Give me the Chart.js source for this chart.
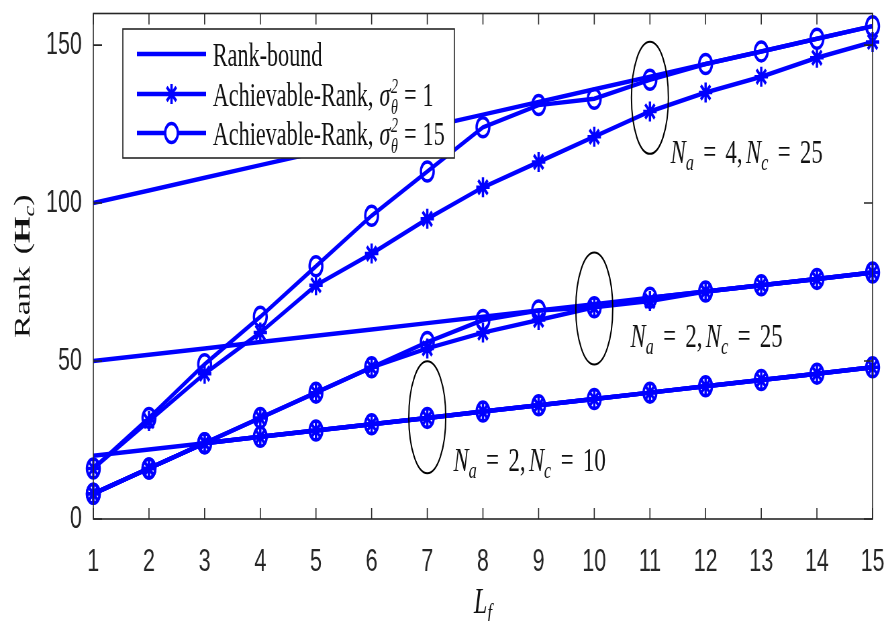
<!DOCTYPE html>
<html>
<head>
<meta charset="utf-8">
<script src="https://cdn.jsdelivr.net/npm/chart.js@4.4.0/dist/chart.umd.min.js"></script>
<style>
  html, body { margin: 0; padding: 0; background: #fff; }
</style>
</head>
<body>
<!-- drawn on a wide canvas and squeezed to the page width -->
<canvas id="rankChart" width="1320" height="621" style="display:block;width:886px;height:621px"></canvas>
<script>
const Lf = [1, 2, 3, 4, 5, 6, 7, 8, 9, 10, 11, 12, 13, 14, 15];
const yTicks = [0, 50, 100, 150];

// Na = 4, Nc = 25
const bound_4_25 = [100, 104, 108, 112, 116, 120, 124, 128, 132, 136, 140, 144, 148, 152, 156];
const ach1_4_25  = [16, 31, 46, 59, 74, 84, 95, 105, 113, 121, 129, 135, 140, 146, 151];
const ach15_4_25 = [16, 32, 49, 64, 80, 96, 110, 124, 131, 133, 139, 144, 148, 152, 156];

// Na = 2, Nc = 25
const bound_2_25 = [50, 52, 54, 56, 58, 60, 62, 64, 66, 68, 70, 72, 74, 76, 78];
const ach1_2_25  = [8, 16, 24, 32, 40, 48, 54, 59, 63, 67, 69, 72, 74, 76, 78];
const ach15_2_25 = [8, 16, 24, 32, 40, 48, 56, 63, 66, 67, 70, 72, 74, 76, 78];

// Na = 2, Nc = 10
const bound_2_10 = [20, 22, 24, 26, 28, 30, 32, 34, 36, 38, 40, 42, 44, 46, 48];
const ach1_2_10  = [8, 16, 24, 26, 28, 30, 32, 34, 36, 38, 40, 42, 44, 46, 48];
const ach15_2_10 = [8, 16, 24, 26, 28, 30, 32, 34, 36, 38, 40, 42, 44, 46, 48];

const blue = '#0000ff';
const ink = '#262626';
const serif = "'Liberation Serif', 'DejaVu Serif', serif";
const plotTop = 8;

function series(label, values, marker) {
  return {
    label: label,
    data: values.map((v, i) => ({ x: Lf[i], y: v })),
    borderColor: blue,
    backgroundColor: blue,
    borderWidth: 4.5,
    pointStyle: marker || 'circle',
    pointRadius: marker ? (marker === 'star' ? 10 : 9.5) : 0,
    pointBorderWidth: 3.5,
    pointBorderColor: blue,
    pointBackgroundColor: 'rgba(0,0,0,0)',
    tension: 0,
    clip: false
  };
}

// text runs: {t, f, dy, gap} or {sup, sub, f} stacked scripts
function runWidth(ctx, parts) {
  let w = 0;
  parts.forEach(p => {
    ctx.font = p.f;
    if (p.sup !== undefined) {
      w += Math.max(ctx.measureText(p.sup).width, ctx.measureText(p.sub).width);
    } else {
      w += ctx.measureText(p.t).width;
    }
    w += p.gap || 0;
  });
  return w;
}

function drawRuns(ctx, x, y, parts) {
  let cx = x;
  parts.forEach(p => {
    ctx.font = p.f;
    if (p.sup !== undefined) {
      ctx.fillText(p.sup, cx, y - 13);
      ctx.fillText(p.sub, cx, y + 8);
      cx += Math.max(ctx.measureText(p.sup).width, ctx.measureText(p.sub).width);
    } else {
      ctx.fillText(p.t, cx, y + (p.dy || 0));
      cx += ctx.measureText(p.t).width;
    }
    cx += p.gap || 0;
  });
  return cx;
}

const big = 'normal 33px ' + serif;
const bigIt = 'italic 33px ' + serif;
const scrIt = 'italic 21px ' + serif;
const note = 'normal 34px ' + serif;
const noteIt = 'italic 34px ' + serif;
const noteSub = 'italic 24px ' + serif;

function naNc(na, nc) {
  return [
    { t: 'N', f: noteIt },
    { t: 'a', f: noteSub, dy: 7, gap: 14 },
    { t: '=', f: note, gap: 14 },
    { t: na + ',', f: note, gap: 5 },
    { t: 'N', f: noteIt },
    { t: 'c', f: noteSub, dy: 7, gap: 14 },
    { t: '=', f: note, gap: 14 },
    { t: nc, f: note }
  ];
}

function sigmaLabel(v) {
  return [
    { t: 'Achievable-Rank,', f: big, gap: 9 },
    { t: 'σ', f: bigIt, gap: 1 },
    { sup: '2', sub: 'θ', f: scrIt, gap: 9 },
    { t: '=', f: big, gap: 9 },
    { t: v, f: big }
  ];
}

const groups = [
  { x: 11, y: 133.3, lx: 11.37, ly: 112.8, text: naNc('4', '25') },
  { x: 10, y: 66.6, lx: 10.65, ly: 54.4, text: naNc('2', '25') },
  { x: 7, y: 32.2, lx: 7.47, ly: 15.3, text: naNc('2', '10') }
];

const legendItems = [
  { marker: null, text: [{ t: 'Rank-bound', f: big }] },
  { marker: 'star', text: sigmaLabel('1') },
  { marker: 'circle', text: sigmaLabel('15') }
];

const decorations = {
  id: 'decorations',
  afterDatasetsDraw(chart) {
    const { ctx, chartArea: a, scales: { x, y } } = chart;
    ctx.save();

    // axes box with inward ticks
    ctx.strokeStyle = ink;
    ctx.lineWidth = 1.6;
    ctx.strokeRect(a.left, a.top, a.right - a.left, a.bottom - a.top);
    ctx.beginPath();
    x.ticks.forEach(t => {
      const px = x.getPixelForValue(t.value);
      ctx.moveTo(px, a.bottom); ctx.lineTo(px, a.bottom - 11);
      ctx.moveTo(px, a.top); ctx.lineTo(px, a.top + 11);
    });
    y.ticks.forEach(t => {
      const py = y.getPixelForValue(t.value);
      ctx.moveTo(a.left, py); ctx.lineTo(a.left + 13, py);
      ctx.moveTo(a.right, py); ctx.lineTo(a.right - 13, py);
    });
    ctx.stroke();

    // group ellipses and labels
    ctx.strokeStyle = '#000';
    ctx.fillStyle = '#111';
    ctx.textBaseline = 'alphabetic';
    ctx.textAlign = 'left';
    groups.forEach(g => {
      ctx.lineWidth = 2;
      ctx.beginPath();
      ctx.ellipse(x.getPixelForValue(g.x), y.getPixelForValue(g.y), 27.5, 56, 0, 0, Math.PI * 2);
      ctx.stroke();
      drawRuns(ctx, x.getPixelForValue(g.lx), y.getPixelForValue(g.ly), g.text);
    });

    // legend
    const lx = 183, ly = 29, lw = 494, lh = 129;
    ctx.fillStyle = '#fff';
    ctx.fillRect(lx, ly, lw, lh);
    ctx.strokeStyle = ink;
    ctx.lineWidth = 1.6;
    ctx.strokeRect(lx, ly, lw, lh);
    const rows = [54, 94, 133];
    legendItems.forEach((item, i) => {
      const ry = rows[i];
      ctx.strokeStyle = blue;
      ctx.lineWidth = 4.5;
      ctx.beginPath();
      ctx.moveTo(204, ry); ctx.lineTo(307, ry);
      ctx.stroke();
      if (item.marker) {
        ctx.fillStyle = '#fff';
        ctx.lineWidth = 3.5;
        Chart.helpers.drawPoint(ctx, {
          pointStyle: item.marker, radius: item.marker === 'star' ? 10 : 9.5,
          rotation: 0, borderWidth: 3.5
        }, 255.5, ry);
      }
      ctx.fillStyle = '#111';
      drawRuns(ctx, 317, ry + 12, item.text);
    });

    // axis titles
    const lt = [{ t: 'L', f: 'italic 36px ' + serif }, { t: 'f', f: 'italic 25px ' + serif, dy: 8 }];
    drawRuns(ctx, (a.left + a.right) / 2 - runWidth(ctx, lt) / 2, 613, lt);

    const rt = [
      { t: 'Rank', f: 'normal 34px ' + serif, gap: 12 },
      { t: '(', f: 'normal 34px ' + serif },
      { t: 'H', f: 'bold 34px ' + serif },
      { t: 'c', f: 'italic 24px ' + serif, dy: 7 },
      { t: ')', f: 'normal 34px ' + serif }
    ];
    ctx.translate(44, (a.top + a.bottom) / 2);
    ctx.rotate(-Math.PI / 2);
    drawRuns(ctx, -runWidth(ctx, rt) / 2, 0, rt);
    ctx.restore();
  }
};

const rankChart = new Chart(document.getElementById('rankChart'), {
  type: 'line',
  data: {
    datasets: [
      series('Rank-bound', bound_4_25),
      series('Achievable-Rank, sigma^2 = 1', ach1_4_25, 'star'),
      series('Achievable-Rank, sigma^2 = 15', ach15_4_25, 'circle'),
      series('Rank-bound', bound_2_25),
      series('Achievable-Rank, sigma^2 = 1', ach1_2_25, 'star'),
      series('Achievable-Rank, sigma^2 = 15', ach15_2_25, 'circle'),
      series('Rank-bound', bound_2_10),
      series('Achievable-Rank, sigma^2 = 1', ach1_2_10, 'star'),
      series('Achievable-Rank, sigma^2 = 15', ach15_2_10, 'circle')
    ]
  },
  options: {
    responsive: false,
    animation: false,
    layout: { padding: { top: plotTop, right: 20, left: 0, bottom: 0 } },
    plugins: { legend: { display: false }, tooltip: { enabled: false } },
    scales: {
      x: {
        type: 'linear', min: 1, max: 15,
        grid: { display: false, drawTicks: false },
        border: { display: false },
        afterBuildTicks: s => { s.ticks = Lf.map(v => ({ value: v })); },
        afterFit: s => { s.height = 102; s.paddingLeft = 0; s.paddingRight = 0; },
        ticks: { color: ink, font: { size: 32 }, padding: 24, maxRotation: 0, autoSkip: false }
      },
      y: {
        min: 0, max: 160,
        grid: { display: false, drawTicks: false },
        border: { display: false },
        afterBuildTicks: s => { s.ticks = yTicks.map(v => ({ value: v })); },
        afterFit: s => { s.width = 139; s.paddingTop = 0; s.paddingBottom = 0; },
        ticks: { color: ink, font: { size: 32 }, padding: 17 }
      }
    }
  },
  plugins: [decorations]
});

// keep the plot frame at its intended top edge
const shift = rankChart.chartArea.top - plotTop;
if (shift > 0.5) {
  rankChart.options.layout.padding.top = plotTop - shift;
  rankChart.update('none');
}
</script>
</body>
</html>
